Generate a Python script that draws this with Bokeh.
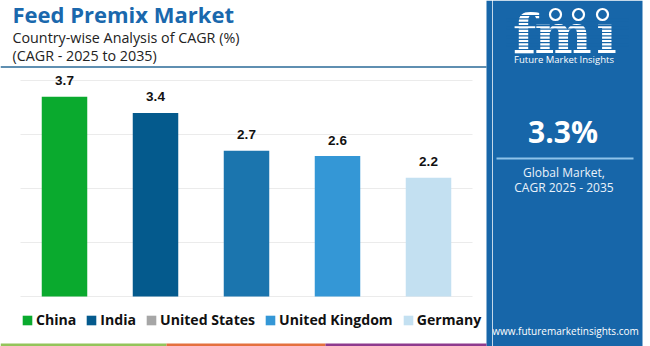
from bokeh.plotting import figure
from bokeh.models import (ColumnDataSource, FactorRange, Range1d, Legend, LegendItem)
from bokeh.layouts import row
from bokeh.embed import file_html
from bokeh.resources import INLINE
from bokeh.core.properties import value

# ---------------- data ----------------
countries = ["China", "India", "United States", "United Kingdom", "Germany"]
cagr = [3.7, 3.4, 2.7, 2.6, 2.2]
bar_colors = ["#0aaa2e", "#045a8d", "#1b75ae", "#3497d6", "#c3e0f1"]
legend_colors = ["#0aaa2e", "#045a8d", "#a6a6a6", "#3497d6", "#c3e0f1"]
y_ticks = [0, 1, 2, 3, 4]

title_text = "Feed Premix Market"
subtitle_lines = ["Country-wise Analysis of CAGR (%)", "(CAGR - 2025 to 2035)"]
global_value = "3.3%"
global_caption = ["Global Market,", "CAGR 2025 - 2035"]
brand_name = "Future Market Insights"
website = "www.futuremarketinsights.com"

FONT = "Open Sans"
PANEL = "#1766a9"

# ---------------- left figure (header + bars + legend) ----------------
W, H = 492, 346
unit_px = 54.0          # pixels per CAGR unit
base_px = 296.0         # pixel row of value 0
slot_px = 91.0          # pixels per category slot
pad_left = 18.5


def sx(px):
    """pixel column -> synthetic categorical coordinate"""
    return [(v - pad_left) / slot_px for v in px]


p = figure(width=W, height=H,
           x_range=FactorRange(*countries, range_padding=pad_left / slot_px,
                               range_padding_units="absolute", factor_padding=0),
           y_range=Range1d(-(H - base_px) / unit_px, base_px / unit_px),
           output_backend="svg", toolbar_location=None, min_border=0,
           x_axis_location=None, y_axis_location=None)
p.xgrid.visible = False
p.ygrid.visible = False
p.outline_line_color = None
p.background_fill_color = "white"
p.border_fill_color = "white"
p.extra_y_ranges = {"px": Range1d(H, 0)}
PY = dict(y_range_name="px")

# sliver of the right panel + bottom strip
p.quad(left=sx([486]), right=sx([W]), top=[0], bottom=[H], fill_color=PANEL,
       line_color=None, **PY)
p.quad(left=sx([0, 166, 325]), right=sx([166, 325, 486]), top=[343, 343, 343],
       bottom=[H, H, H], fill_color=["#93c45a", "#e4703e", "#8e3a8e"], line_color=None, **PY)

# header
p.text(x=sx([12]), y=[13.5], text=[title_text], text_font=value(FONT), text_font_style="bold",
       text_font_size="22px", text_color="#1a68ad", text_baseline="middle", **PY)
p.text(x=sx([12, 12]), y=[37, 55], text=subtitle_lines, text_font=value(FONT),
       text_font_size="14.3px", text_color="#222222", text_baseline="middle", **PY)
p.segment(x0=sx([0]), y0=[66.5], x1=sx([486]), y1=[66.5], line_color="#2a6a97",
          line_width=1.5, **PY)

# gridlines (value rows)
p.segment(x0=sx([20] * len(y_ticks)), x1=sx([472] * len(y_ticks)), y0=y_ticks, y1=y_ticks,
          line_color="#ebebeb", line_width=1)

# bars
src = ColumnDataSource(dict(country=countries, cagr=cagr, color=bar_colors,
                            label=[f"{v:.1f}" for v in cagr]))
p.vbar(x="country", top="cagr", width=0.5, fill_color="color", line_color=None, source=src)
p.text(x="country", y="cagr", text="label", source=src, y_offset=-16,
       text_align="center", text_baseline="middle",
       text_font=value("Liberation Sans"), text_font_style="bold",
       text_font_size="13.5px", text_color="#111111")

# legend (dummy off-screen renderers carry the legend colours)
items = []
for name, c in zip(countries, legend_colors):
    r = p.vbar(x=[name], top=[-6], bottom=[-7], width=0.5, fill_color=c, line_color=None)
    items.append(LegendItem(label=name, renderers=[r]))
legend = Legend(items=items, orientation="horizontal", location=(21, 17),
                glyph_width=12, glyph_height=12, label_standoff=3, spacing=9,
                padding=0, margin=0, border_line_color=None, background_fill_alpha=0,
                label_text_font=FONT, label_text_font_style="bold",
                label_text_font_size="14.1px", label_text_color="#111111")
p.add_layout(legend)

# ---------------- right panel ----------------
PW = 650 - W
pan = figure(width=PW, height=H, x_range=Range1d(0, PW), y_range=Range1d(H, 0),
             output_backend="svg", toolbar_location=None, min_border=0,
             x_axis_location=None, y_axis_location=None)
pan.xgrid.visible = False
pan.ygrid.visible = False
pan.outline_line_color = None
pan.background_fill_color = "white"
pan.border_fill_color = "white"

pan.quad(left=[0], right=[150], top=[0], bottom=[H], fill_color=PANEL, line_color=None)
# fmi logo
pan.text(x=[32, 70.5, 114], y=[33, 33, 33], text=["f", "m", "ı"],
         text_font=value("DejaVu Serif"), text_font_style="bold",
         text_font_size="54px", text_color="white", text_align="center",
         text_baseline="middle")
stripe_y = [15 + 3.4 * i for i in range(11)]
pan.segment(x0=[14] * len(stripe_y), x1=[136] * len(stripe_y), y0=stripe_y, y1=stripe_y,
            line_color=PANEL, line_width=1.2)
pan.scatter(x=[63, 86, 110], y=[14, 14, 14], size=11, marker="circle",
            fill_color=PANEL, line_color="white", line_width=2.2)
pan.text(x=[71.5], y=[59], text=[brand_name], text_font=value(FONT), text_font_size="9.5px",
         text_color="white", text_align="center", text_baseline="middle")
pan.text(x=[70.5], y=[131], text=[global_value], text_font=value(FONT), text_font_style="bold",
         text_font_size="30px", text_color="white", text_align="center",
         text_baseline="middle")
pan.segment(x0=[4], x1=[141], y0=[158], y1=[158], line_color="#8fc3ea", line_width=2)
pan.text(x=[71.5, 71.5], y=[171.5, 186.5], text=global_caption, text_font=value(FONT),
         text_font_size="12px", text_color="#eaf2fa", text_align="center",
         text_baseline="middle")
pan.text(x=[73], y=[330], text=[website], text_font=value(FONT), text_font_size="10px",
         text_color="white", text_align="center", text_baseline="middle")

layout = row(p, pan)
open("out.html", "w").write(file_html(layout, INLINE))
